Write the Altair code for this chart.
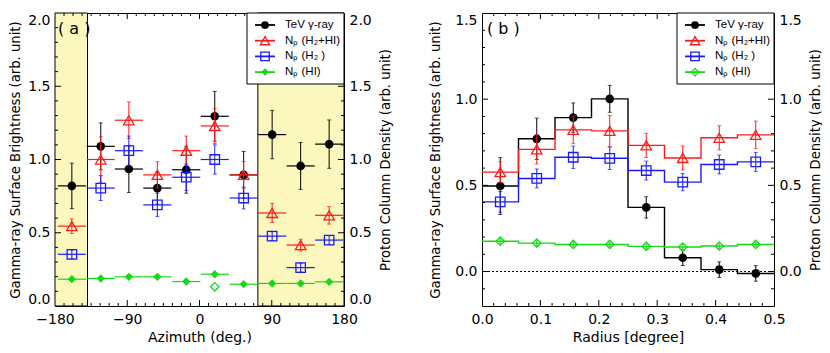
import altair as alt
import pandas as pd

# ---------------- panel (a): azimuth profile ----------------
AZ_CENTER = [-159, -123, -88, -52.5, -16.5, 19, 55, 90.5, 126, 161.5]
AZ_HALF = 17.5
TEV_A = [0.82, 1.09, 0.935, 0.805, 0.93, 1.295, 0.895, 1.17, 0.956, 1.105]
TEV_A_ERR = [0.155, 0.16, 0.16, 0.11, 0.16, 0.17, 0.16, 0.165, 0.16, 0.165]
H2HI_A = [0.545, 1.0, 1.268, 0.895, 1.06, 1.229, 0.895, 0.635, 0.416, 0.619]
H2HI_A_ERR = [0.05, 0.155, 0.125, 0.09, 0.1, 0.12, 0.09, 0.065, 0.04, 0.06]
H2_A = [0.353, 0.805, 1.06, 0.69, 0.879, 1.0, 0.737, 0.477, 0.262, 0.45]
H2_A_ERR = [0.03, 0.085, 0.1, 0.08, 0.09, 0.1, 0.075, 0.03, 0.03, 0.03]
HI_A = [0.183, 0.188, 0.199, 0.199, 0.167, 0.217, 0.149, 0.154, 0.154, 0.165]
HI_A_OPEN_X = [19]
HI_A_OPEN_Y = [0.131]
BAND_LO = [-180, 72.7]
BAND_HI = [-139.5, 180]

# ---------------- panel (b): radial profile ----------------
R_EDGES = [0.0, 0.0625, 0.125, 0.1875, 0.25, 0.3125, 0.375, 0.4375, 0.5]
R_CENTER = [0.03125, 0.09375, 0.15625, 0.21875, 0.28125, 0.34375, 0.40625, 0.46875]
TEV_B = [0.496, 0.77, 0.893, 1.002, 0.372, 0.08, 0.011, -0.011]
TEV_B_ERR = [0.165, 0.12, 0.085, 0.078, 0.062, 0.045, 0.045, 0.045]
H2HI_B = [0.577, 0.709, 0.822, 0.816, 0.732, 0.659, 0.776, 0.793]
H2HI_B_ERR = [0.06, 0.085, 0.08, 0.09, 0.07, 0.07, 0.07, 0.08]
H2_B = [0.404, 0.54, 0.663, 0.657, 0.586, 0.519, 0.621, 0.636]
H2_B_ERR = [0.06, 0.055, 0.065, 0.065, 0.055, 0.05, 0.055, 0.055]
HI_B = [0.176, 0.165, 0.157, 0.157, 0.146, 0.142, 0.148, 0.157]
HI_B_ERR = [0.015] * 8

SERIES = ["TeV γ-ray", "Nₚ (H₂+HI)", "Nₚ (H₂ )", "Nₚ (HI)"]
COLORS = ["black", "#ff1a1a", "#1a1aff", "#16d816"]
SHAPES = ["circle", "triangle-up", "square", "diamond"]
SIZES = [75, 110, 90, 70]

# tick values
XA_MAJOR = [-90, 0, 90]
XA_MINOR = [round(-180 + 11.25 * k, 3) for k in range(1, 32) if k % 8 != 0]
YA_MAJOR = [0.5, 1.0, 1.5]
YA_MINOR = [round(0.1 * k, 2) for k in range(1, 20) if k % 5 != 0]
XB_MAJOR = [0.1, 0.2, 0.3, 0.4]
XB_MINOR = [round(0.02 * k, 3) for k in range(1, 25) if k % 5 != 0]
YB_MAJOR = [0.0, 0.5, 1.0]
YB_MINOR = [round(0.1 * k, 2) for k in range(-1, 15) if k % 5 != 0]

FONT = "DejaVu Sans"
LFONT = "Liberation Sans"
W_A, W_B, H = 289, 292, 293
YELLOW = "#fcf8bd"
YTITLE = 13.2
XTITLE = 14
LABEL = 14

one = pd.DataFrame({"k": [0]})


def ticks(xs, ys, W, xmaj, xmin, ymaj, ymin):
    out = []
    for vals, L in ((xmaj, 6), (xmin, 3)):
        df = pd.DataFrame({"v": vals})
        out.append(alt.Chart(df).mark_rule(color="black", strokeWidth=1).encode(
            x=alt.X("v:Q", scale=xs, axis=None), y=alt.value(H), y2=alt.value(H - L)))
        out.append(alt.Chart(df).mark_rule(color="black", strokeWidth=1).encode(
            x=alt.X("v:Q", scale=xs, axis=None), y=alt.value(0), y2=alt.value(L)))
    for vals, L in ((ymaj, 6), (ymin, 3)):
        df = pd.DataFrame({"v": vals})
        out.append(alt.Chart(df).mark_rule(color="black", strokeWidth=1).encode(
            y=alt.Y("v:Q", scale=ys, axis=None), x=alt.value(0), x2=alt.value(L)))
        out.append(alt.Chart(df).mark_rule(color="black", strokeWidth=1).encode(
            y=alt.Y("v:Q", scale=ys, axis=None), x=alt.value(W), x2=alt.value(W - L)))
    return out


def errbars(xc, vals, errs, color, xs, ys):
    df = pd.DataFrame({"x": xc,
                       "lo": [v - e for v, e in zip(vals, errs)],
                       "hi": [v + e for v, e in zip(vals, errs)]})
    out = [alt.Chart(df).mark_rule(color=color, strokeWidth=1).encode(
        x=alt.X("x:Q", scale=xs, axis=None),
        y=alt.Y("lo:Q", scale=ys, axis=None), y2="hi:Q")]
    for f in ("lo", "hi"):
        out.append(alt.Chart(df).mark_tick(color=color, orient="horizontal", size=4, thickness=1).encode(
            x=alt.X("x:Q", scale=xs, axis=None), y=alt.Y(f + ":Q", scale=ys, axis=None)))
    return out


def markers(xc, vals, i, filled, xs, ys, xaxis=None, yaxis=None):
    df = pd.DataFrame({"x": xc, "y": vals})
    return alt.Chart(df).mark_point(shape=SHAPES[i], filled=filled, size=SIZES[i], color=COLORS[i],
                                    strokeWidth=1.3, opacity=1).encode(
        x=alt.X("x:Q", scale=xs, axis=xaxis), y=alt.Y("y:Q", scale=ys, axis=yaxis))


def legend(W, fills):
    bw = 97
    x0 = W - bw
    out = [alt.Chart(one).mark_rect(fill="white", stroke="black", strokeWidth=1).encode(
        x=alt.value(x0), x2=alt.value(W), y=alt.value(0), y2=alt.value(71))]
    for i, name in enumerate(SERIES):
        yy = 12 + 15.7 * i
        out.append(alt.Chart(one).mark_rule(color=COLORS[i], strokeWidth=1.8).encode(
            x=alt.value(x0 + 8), x2=alt.value(x0 + 28), y=alt.value(yy)))
        out.append(alt.Chart(one).mark_point(shape=SHAPES[i], filled=fills[i], size=SIZES[i] * 0.8,
                                             color=COLORS[i], strokeWidth=1.3, opacity=1).encode(
            x=alt.value(x0 + 18), y=alt.value(yy)))
        out.append(alt.Chart(one).mark_text(text=name, font=LFONT, fontSize=11.5, align="left",
                                            baseline="middle", color="black").encode(
            x=alt.value(x0 + 38), y=alt.value(yy)))
    return out


def yaxes(values, fmt, left_pad):
    left = alt.Axis(title="Gamma-ray Surface Brightness (arb. unit)", orient="left", values=values,
                    format=fmt, labelPadding=5, titlePadding=left_pad, labelFlush=True,
                    titleFontSize=YTITLE)
    right = alt.Axis(title="Proton Column Density (arb. unit)", orient="right", values=values,
                     format=fmt, labelPadding=5, titlePadding=8, titleAngle=270, titleBaseline="top",
                     labelFlush=True, titleFontSize=YTITLE)
    return left, right


# ---------------- build panel (a) ----------------
xa = alt.Scale(domain=[-180, 180], nice=False, zero=False)
ya = alt.Scale(domain=[0, 2], nice=False, zero=False)
xaxis_a = alt.Axis(title="Azimuth (deg.)", orient="bottom", values=[-180, -90, 0, 90, 180], format="d",
                   labelPadding=6, titlePadding=4, titleFontSize=XTITLE, labelFlush=False)
yl_a, yr_a = yaxes([0, 0.5, 1.0, 1.5, 2.0], ".1f", 5)

layers_a = []
bands = pd.DataFrame({"lo": BAND_LO, "hi": BAND_HI})
layers_a.append(alt.Chart(bands).mark_rect(fill=YELLOW, stroke="black", strokeWidth=1).encode(
    x=alt.X("lo:Q", scale=xa, axis=xaxis_a), x2="hi:Q",
    y=alt.Y(datum=0, scale=ya, axis=None), y2=alt.Y2(datum=2)))

series_a = [(TEV_A, TEV_A_ERR, True), (H2HI_A, H2HI_A_ERR, False),
            (H2_A, H2_A_ERR, False), (HI_A, None, True)]
for i, (vals, errs, filled) in enumerate(series_a):
    hdf = pd.DataFrame({"lo": [c - AZ_HALF for c in AZ_CENTER],
                        "hi": [c + AZ_HALF for c in AZ_CENTER], "y": vals})
    layers_a.append(alt.Chart(hdf).mark_rule(color=COLORS[i], strokeWidth=1.2).encode(
        x=alt.X("lo:Q", scale=xa, axis=None), x2="hi:Q", y=alt.Y("y:Q", scale=ya, axis=None)))
    if errs is not None:
        layers_a += errbars(AZ_CENTER, vals, errs, COLORS[i], xa, ya)
    if i == 0:
        layers_a.append(markers(AZ_CENTER, vals, i, filled, xa, ya, None, yl_a))
    elif i == 1:
        layers_a.append(markers(AZ_CENTER, vals, i, filled, xa, ya, None, yr_a))
    else:
        layers_a.append(markers(AZ_CENTER, vals, i, filled, xa, ya))
layers_a.append(markers(HI_A_OPEN_X, HI_A_OPEN_Y, 3, False, xa, ya))
layers_a += ticks(xa, ya, W_A, XA_MAJOR, XA_MINOR, YA_MAJOR, YA_MINOR)
layers_a += legend(W_A, [True, False, False, True])
layers_a.append(alt.Chart(one).mark_text(text="( a )", font=FONT, fontSize=16, align="left",
                                         baseline="middle", color="black").encode(
    x=alt.value(3), y=alt.value(16)))

panel_a = alt.layer(*layers_a).resolve_axis(x="independent", y="independent").properties(
    width=W_A, height=H)

# ---------------- build panel (b) ----------------
xb = alt.Scale(domain=[0, 0.5], nice=False, zero=False)
yb = alt.Scale(domain=[-0.2, 1.5], nice=False, zero=False)
xaxis_b = alt.Axis(title="Radius [degree]", orient="bottom", values=[0, 0.1, 0.2, 0.3, 0.4, 0.5],
                   format=".1f", labelPadding=6, titlePadding=4, titleFontSize=XTITLE, labelFlush=False)
yl_b, yr_b = yaxes([0, 0.5, 1.0, 1.5], ".1f", 12)

layers_b = []
series_b = [(TEV_B, TEV_B_ERR, True), (H2HI_B, H2HI_B_ERR, False),
            (H2_B, H2_B_ERR, False), (HI_B, HI_B_ERR, False)]
for i, (vals, errs, filled) in enumerate(series_b):
    sdf = pd.DataFrame({"x": R_EDGES, "y": list(vals) + [vals[-1]]})
    layers_b.append(alt.Chart(sdf).mark_line(color=COLORS[i], strokeWidth=1.4, interpolate="step-after").encode(
        x=alt.X("x:Q", scale=xb, axis=xaxis_b if i == 0 else None), y=alt.Y("y:Q", scale=yb, axis=None)))
    if i == 0:
        layers_b.append(alt.Chart(one).mark_rule(color="black", strokeWidth=1, strokeDash=[2, 2]).encode(
            y=alt.Y(datum=0, scale=yb, axis=None)))
    layers_b += errbars(R_CENTER, vals, errs, COLORS[i], xb, yb)
    if i == 0:
        layers_b.append(markers(R_CENTER, vals, i, filled, xb, yb, None, yl_b))
    elif i == 1:
        layers_b.append(markers(R_CENTER, vals, i, filled, xb, yb, None, yr_b))
    else:
        layers_b.append(markers(R_CENTER, vals, i, filled, xb, yb))
layers_b += ticks(xb, yb, W_B, XB_MAJOR, XB_MINOR, YB_MAJOR, YB_MINOR)
layers_b += legend(W_B, [True, False, False, False])
layers_b.append(alt.Chart(one).mark_text(text="( b )", font=FONT, fontSize=16, align="left",
                                         baseline="middle", color="black").encode(
    x=alt.value(5), y=alt.value(16)))

panel_b = alt.layer(*layers_b).resolve_axis(x="independent", y="independent").properties(
    width=W_B, height=H)

chart = alt.hconcat(panel_a, panel_b, spacing=36).properties(
    padding={"left": 0, "top": 4, "right": 0, "bottom": 0}
).configure_view(stroke="black", strokeWidth=1).configure_axis(
    labelFont=FONT, titleFont=FONT, labelFontSize=LABEL, titleFontSize=XTITLE,
    labelColor="black", titleColor="black", titleFontWeight="normal",
    grid=False, ticks=False, domain=False)

chart.save("out.html", embed_options={"renderer": "svg", "actions": False})
